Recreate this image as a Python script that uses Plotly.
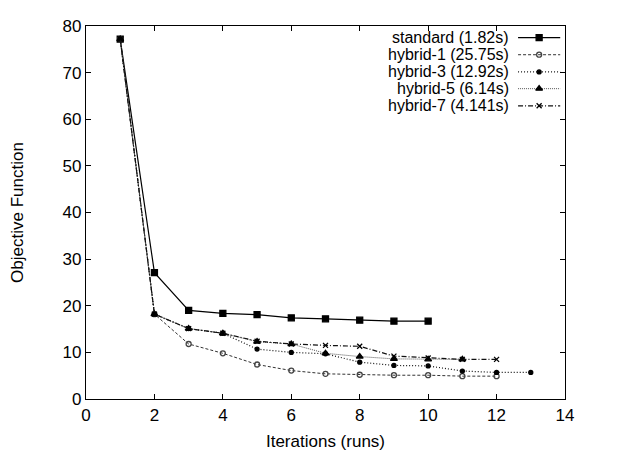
import plotly.graph_objects as go

series_names = ["standard (1.82s)", "hybrid-1 (25.75s)", "hybrid-3 (12.92s)",
                "hybrid-5 (6.14s)", "hybrid-7 (4.141s)"]
standard = [77.2, 27.1, 19.0, 18.35, 18.1, 17.4, 17.2, 16.9, 16.7, 16.7]
hybrid1 = [77.2, 18.2, 11.8, 9.8, 7.4, 6.1, 5.4, 5.2, 5.1, 5.1, 4.9, 4.9]
hybrid3 = [77.2, 18.2, 15.1, 14.1, 10.7, 10.0, 9.7, 7.9, 7.2, 7.1, 6.0, 5.7, 5.7]
hybrid5 = [77.2, 18.2, 15.1, 14.1, 12.3, 11.8, 9.8, 9.1, 8.6, 8.5, 8.5]
hybrid7 = [77.2, 18.2, 15.1, 14.1, 12.4, 11.8, 11.5, 11.3, 9.2, 8.8, 8.5, 8.5]
all_series = [standard, hybrid1, hybrid3, hybrid5, hybrid7]

x_ticks = [0, 2, 4, 6, 8, 10, 12, 14]
y_ticks = [0, 10, 20, 30, 40, 50, 60, 70, 80]

styles = [
    dict(dash="solid", color="#000000", symbol="square", size=6, mcolor="#000000", lw=1.2),
    dict(dash="3px,2px", color="#333333", symbol="circle-open", size=5, mcolor="#444444", lw=1),
    dict(dash="1px,2px", color="#111111", symbol="circle", size=4, mcolor="#000000", lw=1.2),
    dict(dash="1px,1px", color="#555555", symbol="triangle-up", size=6, mcolor="#000000", lw=1),
    dict(dash="5px,2px,1px,2px", color="#111111", symbol="x-thin-open", size=5, mcolor="#000000", lw=1.2),
]

fig = go.Figure()
for name, ys, st in zip(series_names, all_series, styles):
    xs = list(range(1, len(ys) + 1))
    fig.add_trace(go.Scatter(
        x=xs, y=ys, mode="lines+markers", name=name, showlegend=False,
        line=dict(color=st["color"], width=st["lw"], dash=st["dash"]),
        marker=dict(symbol=st["symbol"], size=st["size"], color=st["mcolor"],
                    line=dict(color=st["mcolor"], width=1.3)),
    ))

# gnuplot-style key: right-aligned text followed by a line sample
row_y = [0.969, 0.923, 0.877, 0.832, 0.786]
for name, st, ry in zip(series_names, styles, row_y):
    fig.add_trace(go.Scatter(
        x=[0.902, 0.99], y=[ry, ry], mode="lines", xaxis="x2", yaxis="y2",
        showlegend=False, hoverinfo="skip",
        line=dict(color=st["color"], width=st["lw"], dash=st["dash"]),
    ))
    fig.add_trace(go.Scatter(
        x=[0.946], y=[ry], mode="markers", xaxis="x2", yaxis="y2",
        showlegend=False, hoverinfo="skip",
        marker=dict(symbol=st["symbol"], size=st["size"], color=st["mcolor"],
                    line=dict(color=st["mcolor"], width=1.3)),
    ))
    fig.add_annotation(x=0.886, y=ry, xref="paper", yref="paper", text=name,
                       showarrow=False, xanchor="right", yanchor="middle",
                       borderpad=0, font=dict(size=16, color="#000000"))

axis_common = dict(showgrid=False, zeroline=False, showline=True, mirror="allticks",
                   linecolor="#000000", linewidth=1.2, ticks="inside", ticklen=5,
                   tickcolor="#000000", tickfont=dict(size=17, color="#000000"),
                   ticklabeloverflow="allow")

# the page body has an 8px default margin, so the figure is made 8px smaller
fig.update_layout(
    width=626, height=450,
    margin=dict(l=78, r=69, t=9, b=59),
    paper_bgcolor="white", plot_bgcolor="white",
    font=dict(family="Liberation Sans, Arial, sans-serif", color="#000000"),
    xaxis=dict(range=[0, 14], tickvals=x_ticks, ticktext=[str(v) for v in x_ticks],
               title=dict(text="Iterations (runs)", font=dict(size=17), standoff=11),
               **axis_common),
    yaxis=dict(range=[0, 80], tickvals=y_ticks, ticktext=[str(v) for v in y_ticks],
               title=dict(text="Objective Function", font=dict(size=17), standoff=34),
               **axis_common),
    xaxis2=dict(range=[0, 1], overlaying="x", visible=False),
    yaxis2=dict(range=[0, 1], overlaying="y", visible=False),
)

fig.write_html("out.html")
